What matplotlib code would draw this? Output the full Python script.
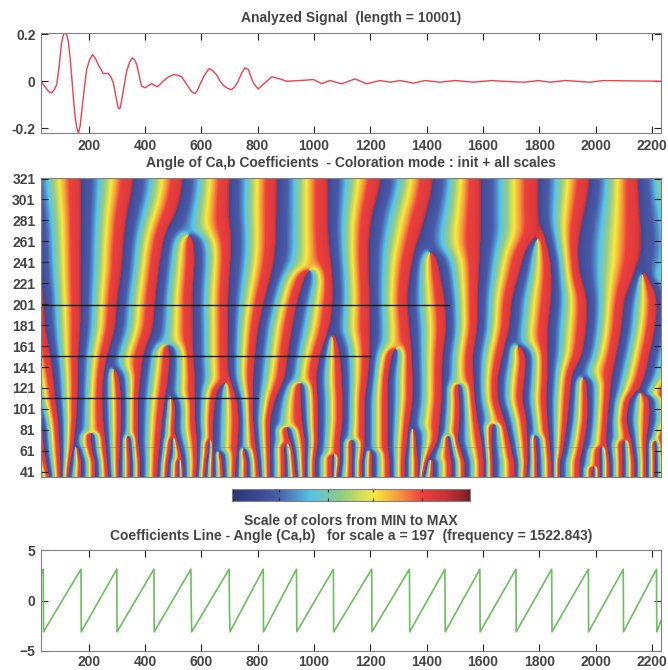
import numpy as np
import matplotlib
matplotlib.use('Agg')
from matplotlib import pyplot as plt
from matplotlib.colors import LinearSegmentedColormap

plt.rcParams['font.family'] = ['Liberation Sans', 'DejaVu Sans']
plt.rcParams['font.weight'] = 'bold'
plt.rcParams['font.size'] = 10

# top panel
signal_x = [31, 45, 58, 69, 78, 87, 96, 104, 110, 116, 122, 128, 134, 140, 146, 152, 158, 164, 170, 175, 184, 193, 203, 214, 224, 234, 252, 270, 280, 288, 296, 305, 311, 317, 326, 335,
            345, 355, 363, 371, 380, 388, 400, 412, 424, 444, 465, 483, 501, 516, 530, 542, 554, 566, 578, 586, 595, 612, 628, 641, 654, 666, 678, 693, 708, 720, 731, 743, 755, 767, 776, 785,
            802, 826, 850, 879, 903, 950, 998, 1027, 1057, 1098, 1146, 1187, 1234, 1270, 1305, 1353, 1394,
            1447, 1501, 1566, 1631, 1684, 1749, 1796, 1838, 1891, 1980, 2027, 2232]
signal_y = [0, -.024, -.044, -.05, -.036, -.014, .07, .164, .195, .21, .2, .171, .105, .021, -.07, -.15, -.2, -.221, -.19, -.135, -.04, .05, .09, .114, .098, .071, .033, .033, .016, -.007, -.06,
            -.114, -.118, -.085, -.02, .043, .08, .1, .092, .071, .022, -.021, -.028, -.018, -.01, -.024, 0, .018, .028, .026, .019, -.002, -.024, -.045, -.053, -.04, -.014, .028, .054, .045, .028, .002, -.017, -.03, -.036, -.022, 0, .034, .057, .05, .02, -.007, -.033, -.007, .019, .01, 0, .003, .007, -.01, .003, -.011,
            .01, -.011, .003, -.004, .003, -.008, .003, -.004, .003, -.004, .003, -.001, -.004, .003, -.004,
            .003, -.004, .003, 0]

# bottom panel: angle along one scale line
angle_x = [31, 39, 40, 173, 174, 300, 301, 432, 433, 563, 564, 566, 699, 700, 702, 820, 821, 938, 939, 1069, 1070,
           1205, 1206, 1339, 1340, 1465, 1466, 1589, 1590, 1717, 1718, 1844, 1845, 1974, 1975, 2098, 2099,
           2216, 2217, 2232]
angle_y = [2.6, 3.1, -3.1, 3.1, -3.1, 3.1, -3.1, 3.1, -3.1, 3.1, 0.1, -3.1, 3.1, -1.0, -3.1, 3.1, -3.1, 3.1, -3.1,
           3.1, -3.1, 3.1, -3.1, 3.1, -3.1, 3.1, -3.1, 3.1, -3.1, 3.1, -3.1, 3.1, -3.1, 3.1, -3.1, 3.1, -3.1,
           3.1, -3.1, -2.0]

# where the angle wraps from red to blue: (scale, position) along each line
wrap_lines = [
    [(215, 35), (207, 38), (178, 45), (152, 63), (130, 74), (110, 81), (90, 91), (50, 99), (36, 99)],
    [(76, 35), (60, 42), (49, 49), (36, 59)],
    [(321, 173), (207, 170), (178, 170), (152, 162), (130, 162), (110, 159), (90, 155), (64, 145), (50, 134), (36, 127)],
    [(64, 159), (50, 173), (36, 173)],
    [(321, 368), (291, 336), (251, 319), (238, 319), (207, 301), (178, 294), (152, 265), (130, 251), (110, 248),
     (90, 251), (70, 258), (50, 265), (36, 269)],
    [(78, 205), (60, 212), (50, 223), (36, 223)],
    [(139, 294), (130, 308), (110, 315), (90, 315), (70, 311), (50, 308), (36, 308)],
    [(75, 340), (50, 347), (36, 347)],
    [(321, 542), (291, 514), (270, 471), (245, 454), (207, 436), (178, 429), (152, 393), (130, 383), (110, 375),
     (90, 375), (70, 375), (50, 383), (36, 383)],
    [(162, 482), (152, 489), (130, 482), (110, 471), (90, 461), (70, 454), (50, 446), (36, 443)],
    [(112, 500), (100, 507), (80, 503), (73, 510), (60, 525), (50, 532), (36, 535)],
    [(73, 493), (60, 489), (50, 482), (36, 478)],
    [(52, 517), (36, 517)],
    [(267, 571), (245, 578), (207, 567), (178, 571), (152, 571), (130, 578), (110, 578), (90, 578), (70, 585),
     (50, 585), (36, 581)],
    [(70, 624), (60, 624), (50, 617), (36, 613)],
    [(125, 677), (118, 656), (108, 649), (90, 642), (70, 642), (50, 642), (36, 642)],
    [(59, 667), (50, 674), (36, 677)],
    [(321, 702), (291, 695), (261, 709), (238, 702), (207, 695), (178, 695), (152, 695), (135, 695), (125, 706),
     (110, 727), (90, 734), (70, 730), (50, 723), (36, 720)],
    [(62, 752), (50, 762), (36, 762)],
    [(321, 869), (261, 865), (238, 858), (207, 826), (178, 801), (152, 791), (130, 784), (110, 784), (90, 784),
     (70, 791), (50, 801), (36, 805)],
    [(234, 986), (221, 961), (207, 943), (178, 922), (152, 908), (130, 897), (110, 862), (90, 844), (70, 844),
     (50, 844), (36, 844)],
    [(83, 901), (60, 926), (36, 936)],
    [(67, 894), (48, 897), (36, 897)],
    [(125, 951), (110, 954), (90, 958), (70, 968), (50, 968), (36, 968)],
    [(321, 1050), (271, 1050), (251, 1057), (221, 1068), (207, 1068), (178, 1057), (152, 1022), (130, 1007),
     (110, 1014), (90, 1014), (70, 1014), (51, 1004), (36, 1004)],
    [(57, 1064), (36, 1064)],
    [(170, 1078), (152, 1093), (130, 1100), (110, 1103), (90, 1103), (70, 1093), (50, 1093), (36, 1085)],
    [(71, 1135), (36, 1135)],
    [(60, 1206), (36, 1206)],
    [(321, 1252), (291, 1206), (251, 1192), (207, 1199), (178, 1199), (152, 1199), (130, 1192), (110, 1181),
     (80, 1181), (65, 1181), (50, 1171), (36, 1171)],
    [(159, 1295), (152, 1277), (130, 1263), (110, 1263), (65, 1263), (50, 1270), (36, 1270)],
    [(321, 1433), (291, 1401), (261, 1370), (241, 1348), (207, 1330), (178, 1341), (152, 1348), (130, 1352),
     (110, 1352), (90, 1341), (50, 1323), (36, 1323)],
    [(81, 1359), (60, 1366), (50, 1370), (36, 1370)],
    [(52, 1423), (36, 1423)],
    [(250, 1433), (221, 1455), (207, 1465), (178, 1472), (152, 1458), (130, 1455), (110, 1455), (90, 1448),
     (70, 1441), (50, 1401), (36, 1387)],
    [(75, 1476), (60, 1483), (50, 1490), (36, 1490)],
    [(124, 1511), (110, 1518), (90, 1518), (70, 1511), (50, 1536), (36, 1536)],
    [(321, 1593), (261, 1593), (207, 1582), (178, 1582), (152, 1565), (130, 1568), (110, 1572), (90, 1582),
     (70, 1597), (50, 1604), (36, 1604)],
    [(86, 1636), (70, 1632), (50, 1636), (36, 1636)],
    [(264, 1785), (251, 1749), (231, 1732), (207, 1703), (178, 1696), (152, 1671), (130, 1653), (110, 1653),
     (90, 1678), (70, 1696), (56, 1707), (50, 1714), (36, 1714)],
    [(162, 1724), (152, 1756), (130, 1749), (110, 1742), (90, 1756), (70, 1760), (50, 1760), (36, 1756)],
    [(75, 1788), (60, 1792), (36, 1795)],
    [(321, 1799), (281, 1795), (264, 1820), (241, 1845), (207, 1845), (178, 1831), (152, 1831), (130, 1831),
     (110, 1827), (90, 1831), (70, 1838), (50, 1845), (36, 1845)],
    [(321, 1987), (291, 1962), (261, 1937), (231, 1941), (207, 1973), (178, 1969), (152, 1955), (140, 1927),
     (130, 1916), (110, 1909), (90, 1902), (70, 1891), (59, 1884), (50, 1874), (36, 1874)],
    [(130, 1969), (110, 1973), (90, 1973), (70, 1962), (50, 1945), (36, 1945)],
    [(64, 2016), (36, 2016)],
    [(45, 1991), (36, 1991)],
    [(321, 2150), (291, 2158), (261, 2165), (241, 2158), (221, 2129), (207, 2104), (178, 2094), (152, 2076),
     (130, 2058), (110, 2051), (90, 2044), (70, 2040), (50, 2051), (36, 2051)],
    [(70, 2097), (36, 2097)],
    [(229, 2182), (215, 2211), (207, 2222), (178, 2214), (152, 2193), (130, 2175), (116, 2147), (110, 2122),
     (90, 2111), (70, 2129), (50, 2140), (36, 2140)],
    [(116, 2165), (110, 2193), (90, 2193), (70, 2182), (50, 2182), (36, 2182)],
    [(70, 2211), (50, 2214), (36, 2214)],
]

# black scale lines over the image: scale, end position
scale_marks = [200, 152, 111]
scale_mark_ends = [1480, 1200, 800]

x_ticks = [200, 400, 600, 800, 1000, 1200, 1400, 1600, 1800, 2000, 2200]
scale_ticks = [321, 301, 281, 261, 241, 221, 201, 181, 161, 141, 121, 101, 81, 61, 41]
bar_ticks = [-3.1, -1.9, -0.6, 0.6, 1.9, 3.1]

bar_colors = LinearSegmentedColormap.from_list('angle', [
    (0.00, '#2e3678'), (0.12, '#3d4a96'), (0.20, '#4a62ae'), (0.33, '#55c4e8'), (0.45, '#8cca8c'),
    (0.60, '#f8ea3c'), (0.70, '#f59a3c'), (0.80, '#ee3f3e'), (0.90, '#c83236'), (1.00, '#7a2226')])
image_colors = LinearSegmentedColormap.from_list('image_angle', [
    (0.00, '#3f4a96'), (0.20, '#4a5aa8'), (0.28, '#4f8fcc'), (0.34, '#57c6e8'), (0.46, '#96cc86'),
    (0.58, '#f8ea3c'), (0.68, '#f59a3c'), (0.77, '#ee3f3e'), (0.95, '#dd3a3c'), (1.00, '#b8303a')])

x_min, x_max = 31, 2232
scale_min, scale_max = 36, 321.5


def angleImage(lines):
    xs = np.linspace(x_min, x_max, 620)
    scales = np.linspace(scale_min, scale_max, 300)
    field = np.zeros((len(scales), len(xs)), dtype=complex)
    for i, s in enumerate(scales):
        s = min(s, 321)
        places = []
        for line in lines:
            line_s = [p[0] for p in line][::-1]
            line_x = [p[1] for p in line][::-1]
            if line_s[0] <= s <= line_s[-1]:
                places.append(np.interp(s, line_s, line_x))
        places = np.sort(places)
        # one full turn between neighbouring wraps, same pitch carried past the edges
        for _ in range(2):
            places = np.concatenate(([places[0] - (places[1] - places[0])], places, [places[-1] + (places[-1] - places[-2])]))
        turns = np.interp(xs, places, np.arange(len(places)))
        field[i] = np.exp(2j * np.pi * turns)
    # smooth along the scales, wider at large scales so the forks round off into arches
    sigma = 0.04 * scales
    weights = np.exp(-0.5 * ((scales[None, :] - scales[:, None]) / sigma[:, None]) ** 2)
    weights /= weights.sum(axis=1, keepdims=True)
    field = weights @ field
    return np.angle(field * np.exp(-1j * np.pi))


def styleAxes(ax):
    for side in ax.spines.values():
        side.set_color('#808080')
    ax.tick_params(direction='in', length=5, width=0.8, color='#222222', labelcolor='#444444', top=True, right=True, pad=4)


if __name__ == '__main__':
    fig = plt.figure(figsize=(6.68, 6.70), dpi=100)
    w, h = 668, 670

    ax1 = fig.add_axes([41 / w, 1 - 133 / h, 620 / w, 100 / h])
    ax1.plot(signal_x, signal_y, color='#f0404c', lw=1.0)
    ax1.set_xlim(x_min, x_max)
    ax1.set_ylim(-0.221, 0.206)
    ax1.set_xticks(x_ticks)
    ax1.set_yticks([-0.2, 0, 0.2], ['-0.2', '0', '0.2'])
    styleAxes(ax1)
    ax1.set_title('Analyzed Signal  (length = 10001)', color='#444444', fontsize=10, fontweight='bold', pad=8)

    ax2 = fig.add_axes([41 / w, 1 - 477 / h, 620 / w, 299 / h])
    ax2.imshow(angleImage(wrap_lines), origin='lower', aspect='auto', cmap=image_colors, vmin=-np.pi, vmax=np.pi,
               extent=[x_min, x_max, scale_min, scale_max], interpolation='bilinear')
    for s, end in zip(scale_marks, scale_mark_ends):
        ax2.plot([x_min, end], [s, s], color='#1a1a1a', lw=1.0)
    ax2.plot([x_min + 130, x_max], [65, 65], color='#806060', lw=0.6, alpha=0.4)
    ax2.set_xlim(x_min, x_max)
    ax2.set_ylim(scale_min, scale_max)
    ax2.set_xticks([])
    ax2.set_yticks(scale_ticks)
    styleAxes(ax2)
    ax2.set_title('Angle of Ca,b Coefficients  - Coloration mode : init + all scales', color='#444444', fontsize=10,
                  fontweight='bold', pad=8)

    ax3 = fig.add_axes([231.5 / w, 1 - 501 / h, 238 / w, 12 / h])
    ax3.imshow(np.linspace(-np.pi, np.pi, 256)[None, :], aspect='auto', cmap=bar_colors, vmin=-np.pi, vmax=np.pi,
               extent=[-np.pi, np.pi, 0, 1])
    ax3.set_xticks(bar_ticks, [])
    ax3.set_yticks([])
    ax3.tick_params(direction='in', length=2.5, width=0.8, color='#222222', top=True)
    for side in ax3.spines.values():
        side.set_color('#808080')
    ax3.text(0.5, -1.65, 'Scale of colors from MIN to MAX', transform=ax3.transAxes, ha='center', va='center',
             color='#444444', fontsize=10)

    ax4 = fig.add_axes([41 / w, 1 - 651 / h, 620 / w, 101 / h])
    ax4.plot(angle_x, angle_y, color='#6cbf5e', lw=1.2)
    ax4.set_xlim(x_min, x_max)
    ax4.set_ylim(-5, 5)
    ax4.set_xticks(x_ticks)
    ax4.set_yticks([-5, 0, 5])
    styleAxes(ax4)
    ax4.tick_params(axis='x', pad=3)
    ax4.set_title('Coefficients Line - Angle (Ca,b)   for scale a = 197  (frequency = 1522.843)', color='#444444',
                  fontsize=10, fontweight='bold', pad=7)

    fig.savefig('out.png', dpi=100)
